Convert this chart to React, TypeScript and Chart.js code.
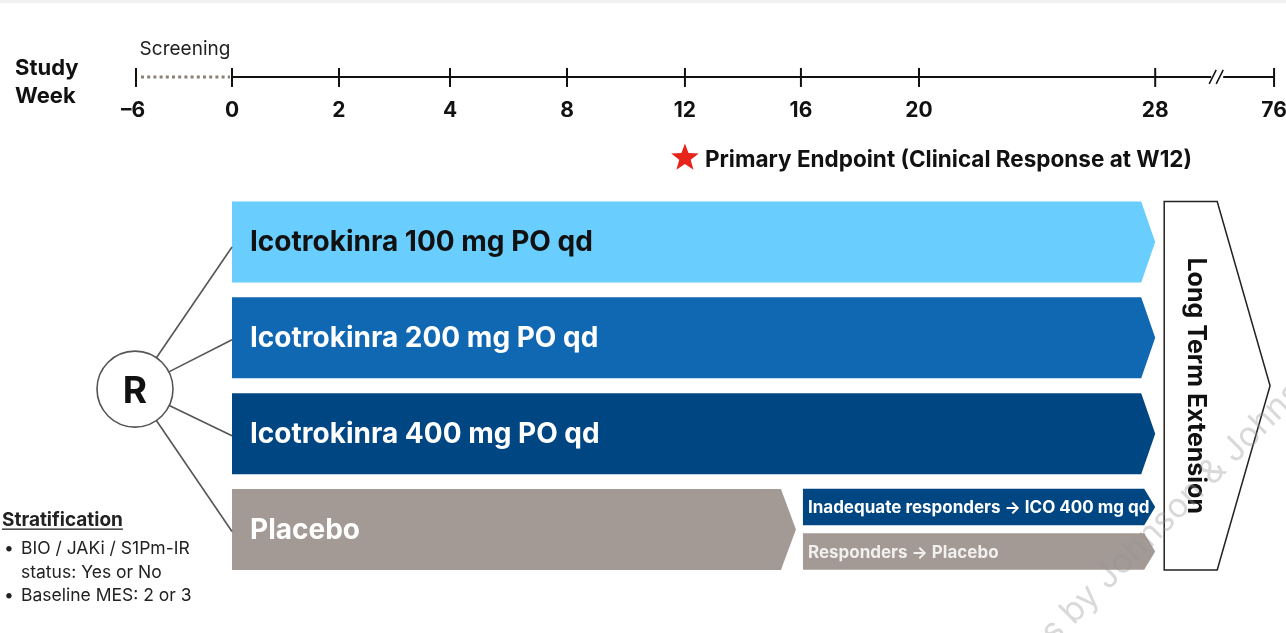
import React, { useEffect, useRef } from 'react';
import { Chart, registerables } from 'chart.js';

Chart.register(...registerables);

// ---------- data ----------
const weekTicks = [-6, 0, 2, 4, 8, 12, 16, 20, 28, 76];
const weekLabels = ['–6', '0', '2', '4', '8', '12', '16', '20', '28', '76'];
// axis slot of each tick (timeline is not linear in weeks; 28→76 is broken)
const tickSlots = [-0.832, 0, 0.927, 1.889, 2.903, 3.925, 4.93, 5.953, 8, 9.03];

const armNames = ['Icotrokinra 100 mg PO qd', 'Icotrokinra 200 mg PO qd', 'Icotrokinra 400 mg PO qd', 'Placebo'];
const armStart = [0, 0, 0, 0];
const armEnd = [28, 28, 28, 16];
const armRows = [0, 1, 2, 3];
const armColors = ['#69CEFE', '#1067B2', '#004682', '#A39A95'];
const armTextColors = ['#111111', '#ffffff', '#ffffff', '#ffffff'];

const transitionNames = ['Inadequate responders → ICO 400 mg qd', 'Responders → Placebo'];
const transitionStart = [16, 16];
const transitionEnd = [28, 28];
const transitionRows = [2.765, 3.23];
const transitionColors = ['#004682', '#A39A95'];
const transitionTextColors = ['#ffffff', '#f2f0ee'];

const screeningLabel = 'Screening';
const axisTitle = ['Study', 'Week'];
const endpointWeek = 12;
const endpointLabel = 'Primary Endpoint (Clinical Response at W12)';
const extensionLabel = 'Long Term Extension';
const stratTitle = 'Stratification';
const stratLines = [['•', 'BIO / JAKi / S1Pm-IR'], ['', 'status: Yes or No'], ['•', 'Baseline MES: 2 or 3']];
const watermark = 'Images by Johnson & Johnson';

// ---------- layout ----------
const W = 1286;
const H = 633;
const X_MIN = -2.0104;
const X_MAX = 9.1334;
const Y_MIN = -2.525;
const Y_MAX = 4.08;
const TIMELINE_ROW = -1.722;
const R_ROW = 1.535;
const FONT = 'Inter, "Open Sans", Roboto, sans-serif';

function weekToSlot(w: number): number {
  for (let i = 0; i < weekTicks.length - 1; i++) {
    if (w >= weekTicks[i] && w <= weekTicks[i + 1]) {
      const t = (w - weekTicks[i]) / (weekTicks[i + 1] - weekTicks[i]);
      return tickSlots[i] + t * (tickSlots[i + 1] - tickSlots[i]);
    }
  }
  return w < weekTicks[0] ? tickSlots[0] : tickSlots[tickSlots.length - 1];
}

function arrowPath(ctx: CanvasRenderingContext2D, l: number, r: number, top: number, bot: number, tip: number) {
  const mid = (top + bot) / 2;
  ctx.beginPath();
  ctx.moveTo(l, top);
  ctx.lineTo(r - tip, top);
  ctx.lineTo(r, mid);
  ctx.lineTo(r - tip, bot);
  ctx.lineTo(l, bot);
  ctx.closePath();
}

function star(ctx: CanvasRenderingContext2D, cx: number, cy: number, ro: number, ri: number) {
  ctx.beginPath();
  for (let i = 0; i < 10; i++) {
    const a = -Math.PI / 2 + (i * Math.PI) / 5;
    const rr = i % 2 === 0 ? ro : ri;
    const px = cx + rr * Math.cos(a);
    const py = cy + rr * Math.sin(a);
    if (i === 0) ctx.moveTo(px, py);
    else ctx.lineTo(px, py);
  }
  ctx.closePath();
}

const diagramPlugin = {
  id: 'studyDiagram',
  afterDatasetsDraw(chart: any) {
    const ctx: CanvasRenderingContext2D = chart.ctx;
    const xs = chart.scales.x;
    const ys = chart.scales.y;
    const px = (w: number) => xs.getPixelForValue(weekToSlot(w));
    ctx.save();

    // top strip
    ctx.fillStyle = '#f1f0ee';
    ctx.fillRect(0, 0, W, 3);

    // ---- timeline ----
    const ty = ys.getPixelForValue(TIMELINE_ROW);
    const x0 = px(0);
    const x28 = px(28);
    const x76 = px(76);
    const breakX = x28 + 61;
    ctx.strokeStyle = '#111';
    ctx.lineWidth = 2;
    ctx.beginPath();
    ctx.moveTo(x0, ty);
    ctx.lineTo(breakX - 5, ty);
    ctx.moveTo(breakX + 7, ty);
    ctx.lineTo(x76, ty);
    ctx.stroke();
    // break slashes
    ctx.lineWidth = 1.5;
    ctx.beginPath();
    ctx.moveTo(breakX - 7, ty + 7);
    ctx.lineTo(breakX + 0, ty - 7);
    ctx.moveTo(breakX + 0, ty + 7);
    ctx.lineTo(breakX + 7, ty - 7);
    ctx.stroke();
    // screening dotted
    ctx.strokeStyle = '#8a8075';
    ctx.lineWidth = 3;
    ctx.setLineDash([3, 3.2]);
    ctx.beginPath();
    ctx.moveTo(px(-6) + 5, ty);
    ctx.lineTo(x0 - 2, ty);
    ctx.stroke();
    ctx.setLineDash([]);
    // ticks + labels
    ctx.strokeStyle = '#111';
    ctx.lineWidth = 2;
    ctx.fillStyle = '#111';
    ctx.font = `bold 21px ${FONT}`;
    ctx.textAlign = 'center';
    ctx.textBaseline = 'middle';
    weekTicks.forEach((w, i) => {
      const x = px(w);
      ctx.beginPath();
      ctx.moveTo(x, ty - 9);
      ctx.lineTo(x, ty + 10);
      ctx.stroke();
      ctx.fillText(weekLabels[i], x - (i === 0 ? 3 : 0), ty + 34);
    });
    // axis title
    ctx.textAlign = 'left';
    ctx.font = `bold 22px ${FONT}`;
    ctx.fillText(axisTitle[0], 15, ty - 9);
    ctx.fillText(axisTitle[1], 15, ty + 19);
    // screening
    ctx.textAlign = 'center';
    ctx.font = `19px ${FONT}`;
    ctx.fillStyle = '#222';
    ctx.fillText(screeningLabel, (px(-6) + x0) / 2 + 1, ty - 28);

    // primary endpoint
    const sx = px(endpointWeek);
    const sy = ty + 81;
    ctx.fillStyle = '#E8231A';
    star(ctx, sx, sy, 14.5, 6);
    ctx.fill();
    ctx.fillStyle = '#111';
    ctx.textAlign = 'left';
    ctx.font = `bold 22.5px ${FONT}`;
    ctx.fillText(endpointLabel, sx + 20, sy + 2);

    // ---- arms ----
    const armMeta = chart.getDatasetMeta(0);
    const armGeo: { l: number; r: number; top: number; bot: number; y: number }[] = [];
    armMeta.data.forEach((el: any, i: number) => {
      const p = el.getProps(['x', 'y', 'base', 'height'], true);
      const l = Math.min(p.base, p.x);
      let r = Math.max(p.base, p.x);
      const isPlacebo = armEnd[i] < 28;
      if (isPlacebo) r -= 5;
      const top = p.y - p.height / 2;
      const bot = p.y + p.height / 2;
      armGeo.push({ l, r, top, bot, y: p.y });
      ctx.fillStyle = armColors[i];
      arrowPath(ctx, l, r, top, bot, isPlacebo ? 15 : 14);
      ctx.fill();
      ctx.fillStyle = armTextColors[i];
      ctx.textAlign = 'left';
      ctx.textBaseline = 'middle';
      ctx.font = `bold 28px ${FONT}`;
      ctx.fillText(armNames[i], l + 18, p.y + 1);
    });

    const trMeta = chart.getDatasetMeta(1);
    trMeta.data.forEach((el: any, i: number) => {
      const p = el.getProps(['x', 'y', 'base', 'height'], true);
      const l = Math.min(p.base, p.x) + 2;
      const r = Math.max(p.base, p.x);
      const top = p.y - p.height / 2;
      const bot = p.y + p.height / 2;
      ctx.fillStyle = transitionColors[i];
      arrowPath(ctx, l, r, top, bot, 11);
      ctx.fill();
      ctx.fillStyle = transitionTextColors[i];
      ctx.font = `bold 17px ${FONT}`;
      ctx.textAlign = 'left';
      ctx.fillText(transitionNames[i], l + 5, p.y + 1);
    });

    // ---- randomisation circle ----
    const cx = px(-6) - 1;
    const cy = ys.getPixelForValue(R_ROW);
    const rad = 38;
    ctx.strokeStyle = '#555';
    ctx.lineWidth = 1.6;
    armGeo.forEach((g, i) => {
      const tyy = g.y + (i === 0 ? 5 : 2);
      const dx = g.l - cx;
      const dy = tyy - cy;
      const len = Math.hypot(dx, dy);
      ctx.beginPath();
      ctx.moveTo(cx + (dx / len) * rad, cy + (dy / len) * rad);
      ctx.lineTo(g.l, tyy);
      ctx.stroke();
    });
    ctx.beginPath();
    ctx.arc(cx, cy, rad, 0, Math.PI * 2);
    ctx.fillStyle = '#fff';
    ctx.fill();
    ctx.stroke();
    ctx.fillStyle = '#111';
    ctx.font = `bold 37px ${FONT}`;
    ctx.textAlign = 'center';
    ctx.fillText('R', cx, cy + 3);

    // ---- long term extension ----
    const eTop = armGeo[0].top;
    const eBot = armGeo[3].bot;
    const eL = x28 + 9;
    const eS = eL + 53;
    const eTip = x76 - 4;
    const eMid = (eTop + eBot) / 2;
    ctx.beginPath();
    ctx.moveTo(eL, eTop);
    ctx.lineTo(eS, eTop);
    ctx.lineTo(eTip, eMid);
    ctx.lineTo(eS, eBot);
    ctx.lineTo(eL, eBot);
    ctx.closePath();
    ctx.fillStyle = '#fff';
    ctx.fill();
    ctx.strokeStyle = '#222';
    ctx.lineWidth = 1.5;
    ctx.stroke();
    ctx.save();
    ctx.translate(eL + 31, eMid);
    ctx.rotate(Math.PI / 2);
    ctx.fillStyle = '#111';
    ctx.font = `bold 25px ${FONT}`;
    ctx.textAlign = 'center';
    ctx.textBaseline = 'middle';
    ctx.fillText(extensionLabel, 0, 0);
    ctx.restore();

    // ---- stratification ----
    ctx.fillStyle = '#222';
    ctx.textAlign = 'left';
    ctx.textBaseline = 'alphabetic';
    ctx.font = `bold 19px ${FONT}`;
    ctx.fillText(stratTitle, 2, 526);
    const tw = ctx.measureText(stratTitle).width;
    ctx.fillRect(2, 528.5, tw, 1.3);
    ctx.font = `17.5px ${FONT}`;
    stratLines.forEach((ln, i) => {
      const by = 554 + i * 23.5;
      if (ln[0]) ctx.fillText(ln[0], 4, by);
      ctx.fillText(ln[1], 21, by);
    });

    // ---- watermark ----
    ctx.save();
    const ang = (-45 * Math.PI) / 180;
    ctx.font = `34px ${FONT}`;
    const pre = ctx.measureText('Image').width;
    const sxw = 1054 - Math.cos(ang) * pre;
    const syw = 645 - Math.sin(ang) * pre;
    ctx.translate(sxw, syw);
    ctx.rotate(ang);
    ctx.fillStyle = 'rgba(150,150,150,0.36)';
    ctx.textAlign = 'left';
    ctx.fillText(watermark, 0, 0);
    ctx.restore();

    ctx.restore();
  },
};

export default function App() {
  const ref = useRef<HTMLCanvasElement | null>(null);
  useEffect(() => {
    document.body.style.margin = '0';
    const canvas = ref.current;
    if (!canvas) return;
    const chart = new Chart(canvas, {
      type: 'bar',
      data: {
        datasets: [
          {
            label: 'Treatment arms',
            data: armRows.map((r, i) => ({ x: [weekToSlot(armStart[i]), weekToSlot(armEnd[i])], y: r })) as any,
            backgroundColor: 'rgba(0,0,0,0)',
            borderWidth: 0,
            barThickness: 81,
            grouped: false,
          } as any,
          {
            label: 'Post-W16 placebo transition',
            data: transitionRows.map((r, i) => ({ x: [weekToSlot(transitionStart[i]), weekToSlot(transitionEnd[i])], y: r })) as any,
            backgroundColor: 'rgba(0,0,0,0)',
            borderWidth: 0,
            barThickness: 36.5,
            grouped: false,
          } as any,
        ],
      },
      options: {
        indexAxis: 'y',
        animation: false,
        responsive: false,
        maintainAspectRatio: false,
        events: [],
        layout: { padding: 0 },
        scales: {
          x: { type: 'linear', min: X_MIN, max: X_MAX, offset: false, display: false },
          y: { type: 'linear', min: Y_MIN, max: Y_MAX, reverse: true, offset: false, display: false },
        },
        plugins: { legend: { display: false }, tooltip: { enabled: false } },
      },
      plugins: [diagramPlugin],
    });
    return () => chart.destroy();
  }, []);
  return (
    <canvas ref={ref} width={W} height={H} style={{ display: 'block', width: W, height: H }} />
  );
}
